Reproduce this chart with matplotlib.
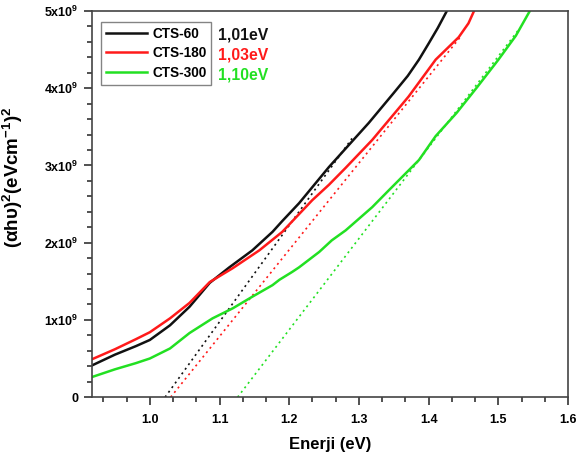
import matplotlib
matplotlib.use("Agg")
import matplotlib.pyplot as plt
import numpy as np
from matplotlib.ticker import MultipleLocator, FuncFormatter

plt.rcParams['font.family'] = ['Liberation Sans', 'DejaVu Sans']
plt.rcParams['font.weight'] = 'bold'
plt.rcParams['mathtext.fontset'] = 'custom'
plt.rcParams['mathtext.rm'] = 'Liberation Sans:bold'
plt.rcParams['mathtext.bf'] = 'Liberation Sans:bold'
plt.rcParams['mathtext.it'] = 'Liberation Sans:bold'
plt.rcParams['mathtext.default'] = 'bf'

# veriler (Tauc grafiği)
x60 = [0.917, 0.95, 0.98, 1.0, 1.029, 1.057, 1.086, 1.114, 1.147, 1.176, 1.19,
       1.214, 1.257, 1.281, 1.314, 1.35, 1.37, 1.386, 1.40, 1.413, 1.426]
y60 = [0.41, 0.55, 0.66, 0.74, 0.93, 1.17, 1.48, 1.68, 1.90, 2.14, 2.28,
       2.51, 2.98, 3.22, 3.55, 3.94, 4.16, 4.37, 4.58, 4.78, 5.0]

x180 = [0.917, 0.95, 0.98, 1.0, 1.029, 1.057, 1.086, 1.119, 1.157, 1.19,
        1.233, 1.257, 1.281, 1.319, 1.371, 1.41, 1.443, 1.457, 1.465]
y180 = [0.49, 0.62, 0.75, 0.84, 1.02, 1.22, 1.49, 1.67, 1.90, 2.14,
        2.55, 2.75, 2.97, 3.33, 3.89, 4.37, 4.66, 4.84, 5.0]

x300 = [0.917, 0.95, 0.98, 1.0, 1.029, 1.057, 1.09, 1.119, 1.147, 1.176, 1.186,
        1.204, 1.214, 1.243, 1.261, 1.281, 1.319, 1.343, 1.386, 1.41, 1.44,
        1.47, 1.50, 1.525, 1.545]
y300 = [0.26, 0.36, 0.44, 0.50, 0.63, 0.83, 1.02, 1.15, 1.30, 1.45, 1.52,
        1.62, 1.68, 1.88, 2.03, 2.16, 2.46, 2.68, 3.07, 3.38, 3.68,
        4.02, 4.37, 4.68, 5.0]

# teğet doğruları (başlangıç, bitiş)
fit60 = ([1.022, 1.29], [0.0, 3.35])
fit180 = ([1.030, 1.446], [0.0, 4.67])
fit300 = ([1.126, 1.53], [0.0, 4.77])

labels = ['CTS-60', 'CTS-180', 'CTS-300']
gaps = ['1,01eV', '1,03eV', '1,10eV']
colors = ['#111111', '#ff1a1a', '#22e022']

fig = plt.figure(figsize=(5.78, 4.57), dpi=100)
ax = fig.add_axes([0.159, 0.131, 0.824, 0.845])

data = [(x60, y60, fit60), (x180, y180, fit180), (x300, y300, fit300)]
for (xs, ys, fit), lab, c in zip(data, labels, colors):
    ax.plot(xs, np.array(ys) * 1e9, color=c, lw=1.8, label=lab)
    ax.plot(fit[0], np.array(fit[1]) * 1e9, color=c, lw=1.2, ls=(0, (1.2, 2.2)))

ax.set_xlim(0.917, 1.6)
ax.set_ylim(0, 5e9)
ax.xaxis.set_major_locator(MultipleLocator(0.1))
ax.xaxis.set_minor_locator(MultipleLocator(0.1 / 3))
ax.yaxis.set_major_locator(MultipleLocator(1e9))
ax.yaxis.set_minor_locator(MultipleLocator(0.2e9))


def yfmt(v, pos):
    n = int(round(v / 1e9))
    if n == 0:
        return '0'
    return r'$\mathbf{%dx10^9}$' % n


ax.yaxis.set_major_formatter(FuncFormatter(yfmt))
ax.xaxis.set_major_formatter(FuncFormatter(lambda v, p: '%.1f' % v))
ax.tick_params(which='both', direction='out', labelsize=9, width=1.2, color='#333333')
ax.tick_params(which='major', length=6)
ax.tick_params(which='minor', length=3.5)
ax.tick_params(axis='x', pad=6)
for s in ax.spines.values():
    s.set_color('#444444')
    s.set_linewidth(1.2)

ax.set_xlabel('Enerji (eV)', fontsize=12, fontweight='bold', labelpad=8)
ax.set_ylabel(r'$\mathbf{(\alpha h\upsilon)^2(eVcm^{-1})^2}$', fontsize=13.5)
ax.yaxis.set_label_coords(-0.141, 0.57)

leg = ax.legend(loc='upper left', bbox_to_anchor=(0.02, 0.972), fontsize=9.8,
                frameon=True, fancybox=False, edgecolor='#666666',
                handlelength=3.0, borderpad=0.35, labelspacing=0.42,
                handletextpad=0.4, borderaxespad=0.0)
leg.get_frame().set_linewidth(1.0)
for t in leg.get_texts():
    t.set_fontweight('bold')

for i, (g, c) in enumerate(zip(gaps, colors)):
    ax.text(0.265, 0.937 - i * 0.051, g, transform=ax.transAxes, color=c,
            fontsize=11.3, fontweight='bold', va='center')

fig.savefig('out.png', dpi=100)
